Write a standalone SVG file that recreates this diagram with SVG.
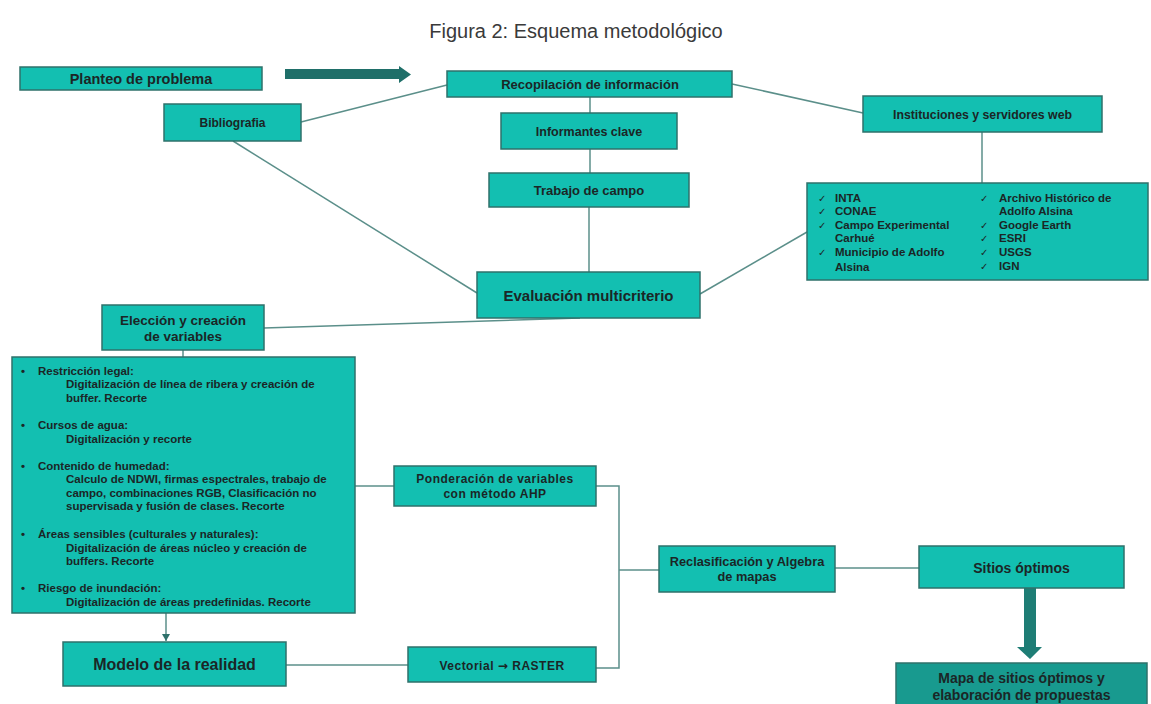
<svg xmlns="http://www.w3.org/2000/svg" width="1151" height="704" viewBox="0 0 1151 704">
<style>
.box{fill:#13bfb1;stroke:#2f716b;stroke-width:1.5}
.t{font-family:"Liberation Sans",Arial,sans-serif;font-weight:bold;fill:#1b2626;text-anchor:middle}
.l{font-family:"Liberation Sans",Arial,sans-serif;font-weight:bold;fill:#1b2626;font-size:11.5px}
.ck{font-family:"DejaVu Sans",sans-serif;font-size:10px;fill:#1b2626}
.c{fill:none;stroke:#5b8f8a;stroke-width:1.5}
</style>
<defs>
<marker id="ah" markerWidth="8" markerHeight="8" refX="7" refY="4" orient="auto" markerUnits="userSpaceOnUse"><path d="M0,0 L7,4 L0,8 z" fill="#2f716b"/></marker>
</defs>
<rect width="1151" height="704" fill="#ffffff"/>
<text x="576" y="38" font-family="Liberation Sans,Arial,sans-serif" font-size="20" fill="#3a3a3a" text-anchor="middle">Figura 2: Esquema metodológico</text>

<g id="connectors">
<line class="c" x1="301" y1="122" x2="447" y2="85"/>
<line class="c" x1="732" y1="84" x2="863" y2="113"/>
<line class="c" x1="590" y1="97" x2="590" y2="113"/>
<line class="c" x1="590" y1="149" x2="590" y2="173"/>
<line class="c" x1="589" y1="207" x2="589" y2="272"/>
<line class="c" x1="233" y1="141" x2="477" y2="293"/>
<line class="c" x1="700" y1="294" x2="807" y2="232"/>
<line class="c" x1="982" y1="132" x2="982" y2="183"/>
<line class="c" x1="264" y1="328" x2="580" y2="318"/>
<line class="c" x1="183" y1="350" x2="183" y2="357"/>
<line class="c" x1="355" y1="486" x2="394" y2="486"/>
<line class="c" x1="166" y1="613" x2="166" y2="641" marker-end="url(#ah)"/>
<line class="c" x1="286" y1="665" x2="408" y2="665"/>
<polyline class="c" points="596,486 619,486 619,668 596,668"/>
<line class="c" x1="619" y1="570" x2="659" y2="570"/>
<line class="c" x1="835" y1="568" x2="919" y2="568"/>
<polygon points="285,69 399,69 399,66 411,74.5 399,83 399,79 285,79" fill="#1f6f69"/>
<polygon points="1024,588 1036,588 1036,647 1042,647 1030,659 1017,647 1024,647" fill="#1e7d75"/>
</g>

<g id="planteo"><rect class="box" x="20" y="67" width="242" height="23"/><text class="t" x="141" y="83.5" font-size="14.5">Planteo de problema</text></g>
<g id="bibliografia"><rect class="box" x="164" y="104" width="137" height="37"/><text class="t" x="232.5" y="127" font-size="12">Bibliografia</text></g>
<g id="recopilacion"><rect class="box" x="447" y="71" width="285" height="26"/><text class="t" x="590" y="88.5" font-size="13">Recopilación de información</text></g>
<g id="informantes"><rect class="box" x="501" y="113" width="176" height="36"/><text class="t" x="589" y="135.5" font-size="12.5">Informantes clave</text></g>
<g id="trabajo"><rect class="box" x="489" y="173" width="200" height="34"/><text class="t" x="589" y="194.5" font-size="13">Trabajo de campo</text></g>
<g id="instituciones"><rect class="box" x="863" y="96" width="239" height="36"/><text class="t" x="982.5" y="118.5" font-size="12.3">Instituciones y servidores web</text></g>
<g id="lista-instituciones"><rect class="box" x="807" y="183" width="341" height="97"/>
<text class="ck" x="818" y="202">✓</text><text class="l" x="835" y="202">INTA</text>
<text class="ck" x="818" y="215">✓</text><text class="l" x="835" y="215">CONAE</text>
<text class="ck" x="818" y="229">✓</text><text class="l" x="835" y="229">Campo Experimental</text>
<text class="l" x="835" y="242">Carhué</text>
<text class="ck" x="818" y="256">✓</text><text class="l" x="835" y="256">Municipio de Adolfo</text>
<text class="l" x="835" y="271">Alsina</text>
<text class="ck" x="980" y="202">✓</text><text class="l" x="999" y="202">Archivo Histórico de</text>
<text class="l" x="999" y="215">Adolfo Alsina</text>
<text class="ck" x="980" y="229">✓</text><text class="l" x="999" y="229">Google Earth</text>
<text class="ck" x="980" y="242">✓</text><text class="l" x="999" y="242">ESRI</text>
<text class="ck" x="980" y="256">✓</text><text class="l" x="999" y="256">USGS</text>
<text class="ck" x="980" y="270">✓</text><text class="l" x="999" y="270">IGN</text>
</g>
<g id="evaluacion"><rect class="box" x="477" y="272" width="223" height="46"/><text class="t" x="588.5" y="300.5" font-size="15">Evaluación multicriterio</text></g>
<g id="eleccion"><rect class="box" x="102" y="305" width="162" height="45"/><text class="t" x="183" y="325" font-size="13.5">Elección  y creación</text><text class="t" x="183" y="341" font-size="13.5">de variables</text></g>
<g id="variables"><rect class="box" x="12" y="357" width="343" height="256"/>
<text class="l" x="21" y="375">•</text><text class="l" x="38" y="375">Restricción legal:</text>
<text class="l" x="66" y="388">Digitalización de línea de ribera y creación de</text>
<text class="l" x="66" y="402">buffer. Recorte</text>
<text class="l" x="21" y="429">•</text><text class="l" x="38" y="429">Cursos de agua:</text>
<text class="l" x="66" y="443">Digitalización y recorte</text>
<text class="l" x="21" y="470">•</text><text class="l" x="38" y="470">Contenido de humedad:</text>
<text class="l" x="66" y="483">Calculo de  NDWI, firmas espectrales, trabajo de</text>
<text class="l" x="66" y="497">campo, combinaciones RGB, Clasificación no</text>
<text class="l" x="66" y="510">supervisada y fusión de clases. Recorte</text>
<text class="l" x="21" y="538">•</text><text class="l" x="38" y="538">Áreas sensibles (culturales y naturales):</text>
<text class="l" x="66" y="552">Digitalización de áreas núcleo y creación de</text>
<text class="l" x="66" y="565">buffers. Recorte</text>
<text class="l" x="21" y="592">•</text><text class="l" x="38" y="592">Riesgo de inundación:</text>
<text class="l" x="66" y="606">Digitalización de áreas predefinidas. Recorte</text>
</g>
<g id="ponderacion"><rect class="box" x="394" y="466" width="202" height="40"/><text class="t" x="495" y="483" font-size="12" letter-spacing="0.5">Ponderación de variables</text><text class="t" x="495" y="498" font-size="12" letter-spacing="0.5">con método AHP</text></g>
<g id="modelo"><rect class="box" x="63" y="642" width="223" height="44"/><text class="t" x="174.5" y="670" font-size="16">Modelo de la realidad</text></g>
<g id="vectorial"><rect class="box" x="408" y="647" width="188" height="35"/><text class="t" x="502" y="670" font-size="12" letter-spacing="0.5">Vectorial <tspan font-family="DejaVu Sans,sans-serif" font-size="12">→</tspan>  RASTER</text></g>
<g id="reclasificacion"><rect class="box" x="659" y="546" width="176" height="46"/><text class="t" x="747" y="566" font-size="12.8">Reclasificación y Algebra</text><text class="t" x="747" y="581" font-size="12.8">de mapas</text></g>
<g id="sitios"><rect class="box" x="919" y="546" width="205" height="42"/><text class="t" x="1021.5" y="573" font-size="14">Sitios óptimos</text></g>
<g id="mapa"><rect x="896" y="663" width="251" height="45" fill="#189a8f" stroke="#2f716b" stroke-width="1.5"/><text class="t" x="1021.5" y="683" font-size="14">Mapa de sitios  óptimos y</text><text class="t" x="1021.5" y="700" font-size="14">elaboración de propuestas</text></g>
</svg>
